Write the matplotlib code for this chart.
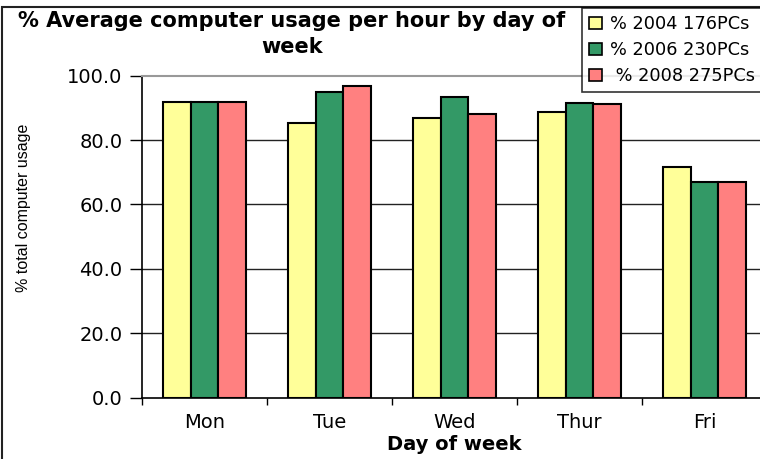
import numpy as np
import matplotlib.pyplot as plt
from matplotlib.patches import Rectangle

days = ['Mon', 'Tue', 'Wed', 'Thur', 'Fri']
usage_2004 = [91.8, 85.3, 86.8, 88.6, 71.7]
usage_2006 = [91.8, 94.9, 93.5, 91.5, 66.9]
usage_2008 = [91.8, 96.9, 88.2, 91.1, 66.9]
series_labels = ['% 2004 176PCs', '% 2006 230PCs', ' % 2008 275PCs']
series_colors = ['#FFFF99', '#339966', '#FF8080']

fig = plt.figure(figsize=(7.6, 4.59), dpi=100)
ax = fig.add_axes([142 / 760, 1 - 397.7 / 459, 625 / 760, 322 / 459])

x = np.arange(len(days))
w = 0.222
for i, (vals, lab, col) in enumerate(zip([usage_2004, usage_2006, usage_2008],
                                         series_labels, series_colors)):
    ax.bar(x + (i - 1) * w, vals, width=w, color=col, edgecolor='black',
           linewidth=1.5, label=lab, zorder=3)

ax.set_xlim(-0.5, len(days) - 0.5)
ax.set_ylim(0, 100)
ax.set_yticks(np.arange(0, 101, 20))
ax.set_yticklabels([f'{v:.1f}' for v in np.arange(0, 101, 20)], fontsize=14)
ax.set_xticks(x)
ax.set_xticklabels(days, fontsize=14)
ax.set_xticks(np.arange(-0.5, len(days)), minor=True)
ax.tick_params(axis='x', which='major', length=0, pad=11)
ax.tick_params(axis='x', which='minor', length=5, direction='out', width=1)
ax.tick_params(axis='y', length=9, direction='out', width=1, pad=5)

for v in [20, 40, 60, 80]:
    ax.axhline(v, color='#222222', linewidth=1, zorder=1)

ax.spines['top'].set_color('#999999')
ax.spines['top'].set_linewidth(1.5)
ax.spines['right'].set_visible(False)
ax.spines['left'].set_linewidth(1.2)
ax.spines['bottom'].set_linewidth(1.2)

ax.set_ylabel('% total computer usage', fontsize=11.5, family='Liberation Sans')
ax.yaxis.set_label_coords(-0.178, 0.59)
ax.set_xlabel('Day of week', fontsize=14, fontweight='bold')
ax.xaxis.set_label_coords(0.5, -0.117)

fig.text(292 / 760, 1 - 11 / 459,
         '% Average computer usage per hour by day of\nweek',
         ha='center', va='top', fontsize=15, fontweight='bold', linespacing=1.35)

# outer chart border
fig.patches.append(Rectangle((2 / 760, -0.05), 1.2, 1 - 7 / 459 + 0.05,
                             transform=fig.transFigure, fill=False,
                             edgecolor='#222222', linewidth=1.5))

leg = fig.legend(loc='upper left', bbox_to_anchor=(582 / 760, 1 - 8 / 459),
                 fontsize=12.8, frameon=True, fancybox=False, handlelength=0.7,
                 handleheight=0.7, handletextpad=0.5, borderpad=0.4,
                 labelspacing=0.45, borderaxespad=0)
leg.get_frame().set_edgecolor('black')
leg.get_frame().set_linewidth(1.2)
for h in leg.legend_handles:
    h.set_linewidth(1.2)

fig.savefig('out.png', dpi=100)
